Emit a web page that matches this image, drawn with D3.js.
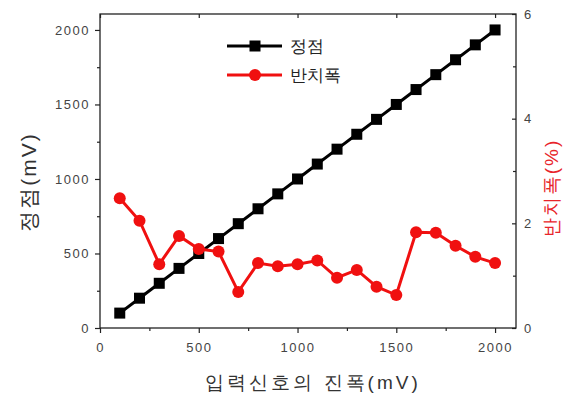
<!DOCTYPE html>
<html><head><meta charset="utf-8">
<script src="https://cdn.jsdelivr.net/npm/d3@7/dist/d3.min.js"></script>
<style>
html,body{margin:0;padding:0;background:#fff;}
svg{display:block;font-family:"Liberation Sans",Arial,sans-serif;}
</style></head>
<body><svg id="chart" width="569" height="396"></svg>
<script>
// Input amplitude (mV)
const inputAmp = [100,200,300,400,500,600,700,800,900,1000,1100,1200,1300,1400,1500,1600,1700,1800,1900,2000];
// Peak value (mV)
const peak = [100,200,300,400,500,600,700,800,900,1000,1100,1200,1300,1400,1500,1600,1700,1800,1900,2000];
// Half width (%)
const halfWidth = [2.48,2.05,1.22,1.76,1.51,1.46,0.69,1.24,1.18,1.22,1.29,0.96,1.11,0.79,0.63,1.83,1.82,1.57,1.36,1.24];
const xTicks = [0,500,1000,1500,2000];
const yLeftTicks = [0,500,1000,1500,2000];
const yRightTicks = [0,2,4,6];
const seriesNames = ["정점","반치폭"];

const svg = d3.select("#chart");
const L = 100, R = 516, T = 14, B = 328;
const x = d3.scaleLinear().domain([0,2106]).range([L,R]);
const yL = d3.scaleLinear().domain([0,2107]).range([B,T]);
const yR = d3.scaleLinear().domain([0,6]).range([B,T]);
const tickColor = "#444";

// frame
svg.append("rect").attr("x",L).attr("y",T).attr("width",R-L).attr("height",B-T)
  .attr("fill","none").attr("stroke","#222").attr("stroke-width",1.3);

function styleAxis(g){
  g.select(".domain").remove();
  g.selectAll("line").attr("stroke","#222").attr("stroke-width",1.2);
  g.selectAll("text").attr("fill",tickColor).style("font-size","13px").style("letter-spacing","1.5px");
}
// minor ticks
const minorX = d3.range(250,2106,500);
const minorL = d3.range(250,2107,500);
const minorR = [1,3,5];

const gx = svg.append("g").attr("transform",`translate(0,${B})`)
  .call(d3.axisBottom(x).tickValues(xTicks).tickSize(5).tickPadding(10).tickFormat(d3.format("d")));
styleAxis(gx);
svg.append("g").attr("transform",`translate(0,${B})`)
  .call(d3.axisBottom(x).tickValues(minorX).tickSize(3).tickFormat(""))
  .call(styleAxis);
svg.append("g").attr("transform",`translate(0,${T})`)
  .call(d3.axisBottom(x).tickValues(xTicks).tickSize(4).tickFormat(""))
  .call(styleAxis);

const gl = svg.append("g").attr("transform",`translate(${L},0)`)
  .call(d3.axisLeft(yL).tickValues(yLeftTicks).tickSize(5).tickPadding(5).tickFormat(d3.format("d")));
styleAxis(gl);
svg.append("g").attr("transform",`translate(${L},0)`)
  .call(d3.axisLeft(yL).tickValues(minorL).tickSize(3).tickFormat(""))
  .call(styleAxis);

const gr = svg.append("g").attr("transform",`translate(${R},0)`)
  .call(d3.axisRight(yR).tickValues(yRightTicks).tickSize(-4).tickPadding(8).tickFormat(d3.format("d")));
styleAxis(gr);
svg.append("g").attr("transform",`translate(${R},0)`)
  .call(d3.axisRight(yR).tickValues(minorR).tickSize(-3).tickFormat(""))
  .call(styleAxis);

// axis titles
svg.append("text").attr("transform",`translate(36,182) rotate(-90)`)
  .attr("text-anchor","middle").attr("fill","#333").style("font-size","21px").style("letter-spacing","2px")
  .text("정점(mV)");
svg.append("text").attr("transform",`translate(558,188) rotate(-90)`)
  .attr("text-anchor","middle").attr("fill","#e8242a").style("font-size","19px").style("letter-spacing","2px")
  .text("반치폭(%)");
svg.append("text").attr("x",313).attr("y",389)
  .attr("text-anchor","middle").attr("fill","#333").style("font-size","19px").style("letter-spacing","3px")
  .text("입력신호의 진폭(mV)");

// peak series
const lineL = d3.line().x((d,i)=>x(inputAmp[i])).y(d=>yL(d));
svg.append("path").datum(peak).attr("d",lineL)
  .attr("fill","none").attr("stroke","#000").attr("stroke-width",3);
svg.append("g").selectAll("rect").data(peak).join("rect")
  .attr("x",(d,i)=>x(inputAmp[i])-5.5).attr("y",d=>yL(d)-5.5)
  .attr("width",11).attr("height",11).attr("fill","#000");

// half-width series
const lineR = d3.line().x((d,i)=>x(inputAmp[i])).y(d=>yR(d));
svg.append("path").datum(halfWidth).attr("d",lineR)
  .attr("fill","none").attr("stroke","#f01010").attr("stroke-width",3);
svg.append("g").selectAll("circle").data(halfWidth).join("circle")
  .attr("cx",(d,i)=>x(inputAmp[i])).attr("cy",d=>yR(d)).attr("r",6)
  .attr("fill","#f01010");

// legend
const leg = svg.append("g");
const legY = [46,75];
const legColors = ["#000","#f01010"];
seriesNames.forEach((name,i)=>{
  leg.append("line").attr("x1",227).attr("x2",282).attr("y1",legY[i]).attr("y2",legY[i])
    .attr("stroke",legColors[i]).attr("stroke-width",3);
  if(i===0){
    leg.append("rect").attr("x",249.5).attr("y",legY[i]-5.5).attr("width",11).attr("height",11).attr("fill","#000");
  } else {
    leg.append("circle").attr("cx",255).attr("cy",legY[i]).attr("r",6).attr("fill","#f01010");
  }
  leg.append("text").attr("x",290).attr("y",legY[i]+6).attr("fill","#222")
    .style("font-size","17px").text(name);
});
</script>
</body></html>
